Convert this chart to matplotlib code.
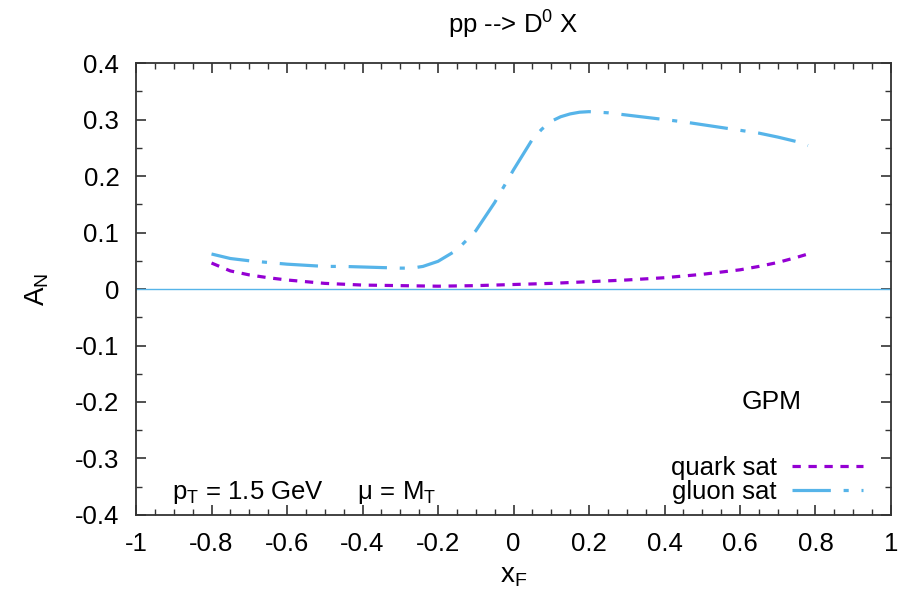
import matplotlib
matplotlib.use("Agg")
import matplotlib.pyplot as plt
from matplotlib.ticker import MultipleLocator

plt.rcParams['font.family'] = ['Liberation Sans', 'DejaVu Sans']
plt.rcParams['mathtext.fontset'] = 'custom'
plt.rcParams['mathtext.rm'] = 'Liberation Sans'

# gluon sat curve
xf_gluon = [-0.8, -0.75, -0.7, -0.65, -0.6, -0.55, -0.5, -0.45, -0.4, -0.35, -0.3,
            -0.27, -0.24, -0.2, -0.15, -0.1, -0.05, 0.0, 0.05, 0.075, 0.1, 0.125,
            0.15, 0.175, 0.2, 0.25, 0.3, 0.35, 0.4, 0.45, 0.5, 0.55, 0.6, 0.65, 0.7,
            0.75, 0.78]
an_gluon = [0.062, 0.054, 0.050, 0.047, 0.044, 0.042, 0.040, 0.040, 0.039, 0.038, 0.037,
            0.037, 0.040, 0.049, 0.069, 0.103, 0.153, 0.211, 0.265, 0.283, 0.297, 0.305,
            0.310, 0.313, 0.314, 0.312, 0.308, 0.304, 0.300, 0.296, 0.291, 0.286, 0.281,
            0.276, 0.269, 0.261, 0.254]

# quark sat curve
xf_quark = [-0.8, -0.75, -0.7, -0.65, -0.6, -0.5, -0.4, -0.3, -0.2, -0.1, 0.0, 0.1,
            0.2, 0.3, 0.4, 0.5, 0.55, 0.6, 0.65, 0.7, 0.75, 0.78]
an_quark = [0.046, 0.032, 0.025, 0.020, 0.016, 0.010, 0.007, 0.006, 0.005, 0.006, 0.008,
            0.010, 0.013, 0.016, 0.020, 0.026, 0.030, 0.034, 0.040, 0.047, 0.056, 0.062]

fig = plt.figure(figsize=(9.02, 5.95), dpi=100)
ax = fig.add_axes([0.1508, 0.1345, 0.8370, 0.7595])

ax.axhline(0, color='#56b4e9', lw=1.0)
ax.plot(xf_quark, an_quark, color='#9400d3', lw=2.3, dashes=(2.6, 2.4),
        label='quark sat')
ax.plot(xf_gluon, an_gluon, color='#56b4e9', lw=2.3, dashes=(12, 4, 1.6, 4),
        label='gluon sat')

ax.set_xlim(-1, 1)
ax.set_ylim(-0.4, 0.4)
ax.xaxis.set_major_locator(MultipleLocator(0.2))
ax.xaxis.set_minor_locator(MultipleLocator(0.05))
ax.yaxis.set_major_locator(MultipleLocator(0.1))
ax.yaxis.set_minor_locator(MultipleLocator(0.05))


def fmt(v, pos):
    s = '%g' % round(v, 2)
    return '0' if s in ('-0', '0') else s


ax.xaxis.set_major_formatter(plt.FuncFormatter(fmt))
ax.yaxis.set_major_formatter(plt.FuncFormatter(fmt))

ax.tick_params(which='both', direction='in', top=True, right=True,
               labelsize=18.5, color='#333333')
ax.tick_params(which='major', length=7, width=1.2, pad=12)
ax.tick_params(which='minor', length=4, width=1.0)
for s in ax.spines.values():
    s.set_color('#333333')
    s.set_linewidth(1.3)

ax.set_title(r'pp --> D$^\mathregular{0}$ X', fontsize=18.5, pad=22)
ax.set_xlabel(r'$\mathregular{x_F}$', fontsize=20, labelpad=5)
ax.set_ylabel(r'$\mathregular{A_N}$', fontsize=20, labelpad=17)

ax.text(0.685, -0.20, 'GPM', fontsize=19, va='center', ha='center')
ax.text(-0.904, -0.36, r'$\mathregular{p_T}$ = 1.5 GeV     μ = $\mathregular{M_T}$',
        fontsize=18.5, va='center', ha='left')

ax.legend(loc='lower right', bbox_to_anchor=(0.983, -0.009), frameon=False,
          markerfirst=False, fontsize=18.5, handlelength=2.75, handletextpad=0.6,
          labelspacing=0.0, borderaxespad=0.2)

fig.savefig('out.png', dpi=100)
